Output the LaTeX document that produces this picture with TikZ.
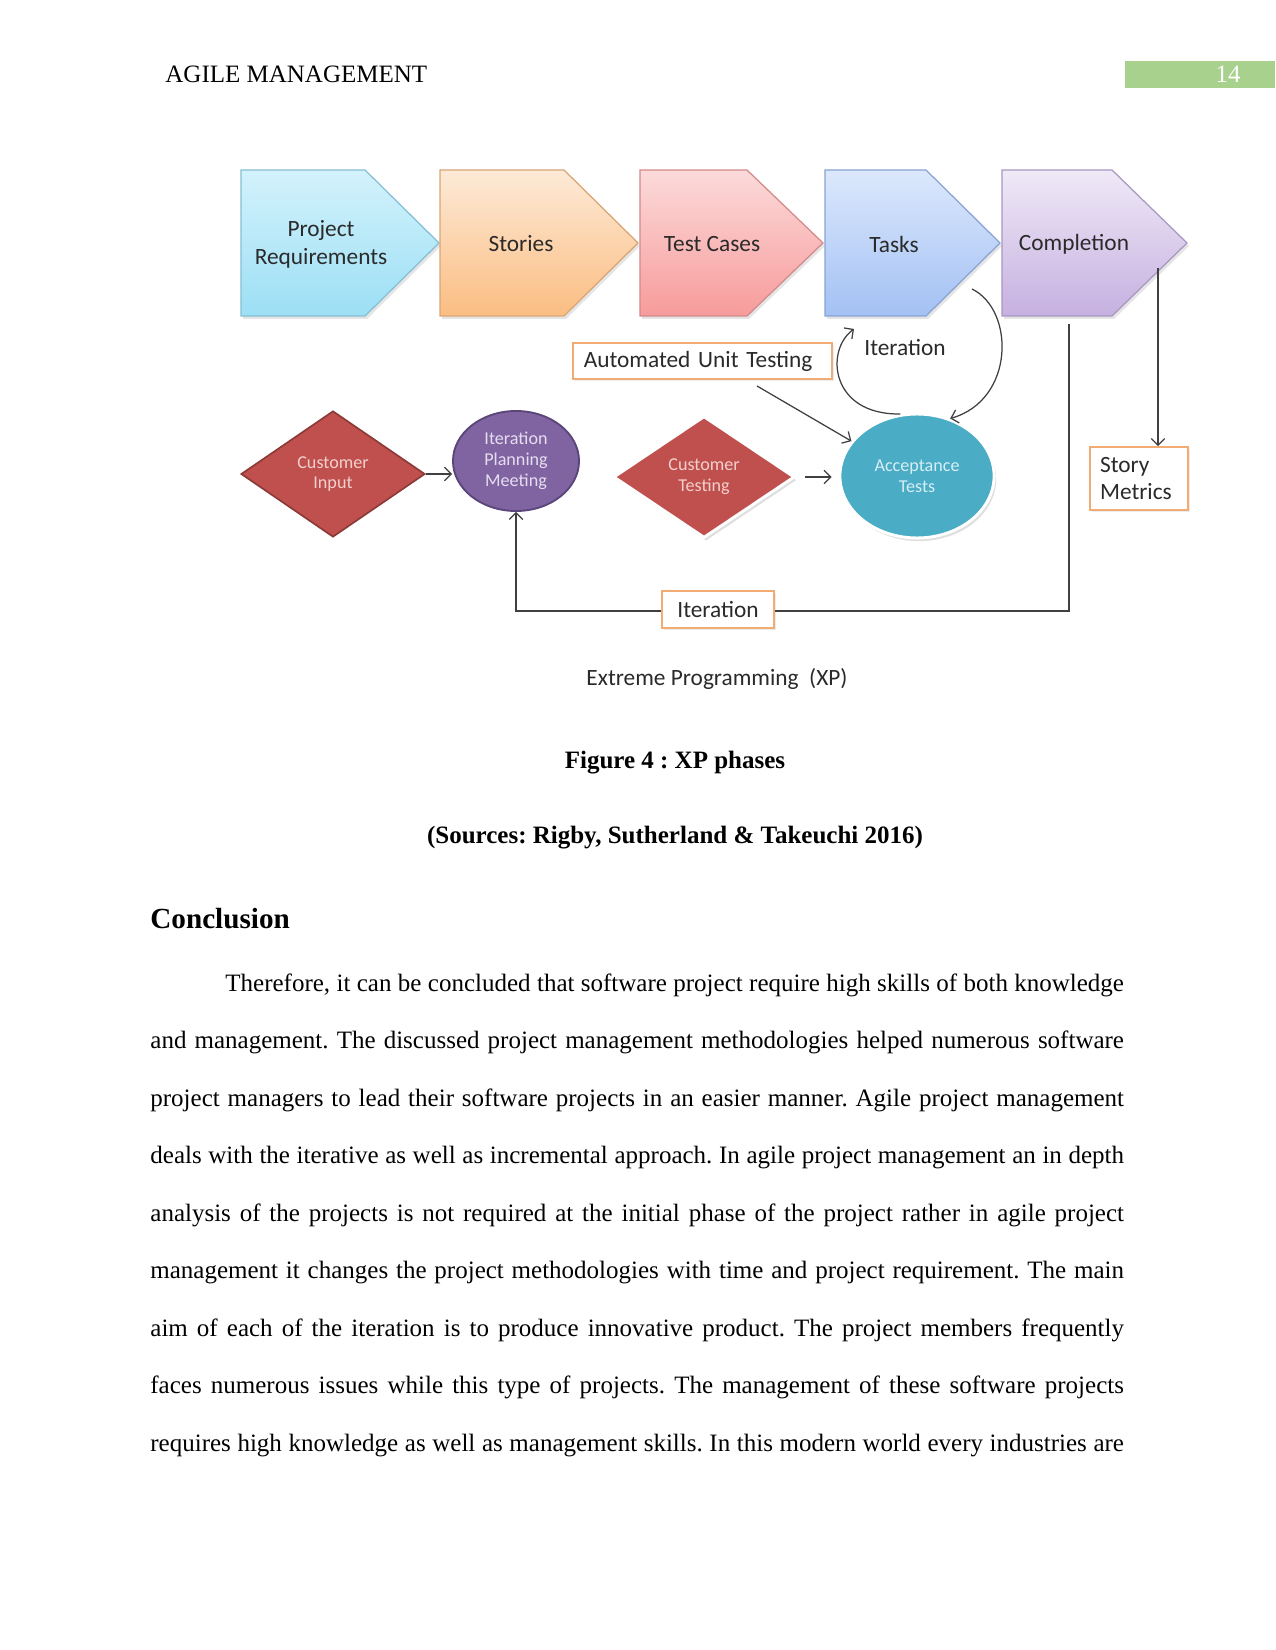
\documentclass[tikz,border=0pt]{standalone}
\usepackage{fontspec}
\setmainfont{Liberation Serif}
\newfontfamily\carl{Carlito}
\usetikzlibrary{arrows.meta,shapes.geometric,shadows,calc}
\frenchspacing
\definecolor{prTop}{HTML}{D3F2FC}\definecolor{prBot}{HTML}{9CDFF5}\definecolor{prBd}{HTML}{86BFD3}
\definecolor{stTop}{HTML}{FDEAD7}\definecolor{stBot}{HTML}{FBBD82}\definecolor{stBd}{HTML}{D9A574}
\definecolor{tcTop}{HTML}{FCDADA}\definecolor{tcBot}{HTML}{F79B9B}\definecolor{tcBd}{HTML}{D38A8A}
\definecolor{tkTop}{HTML}{DCE8FC}\definecolor{tkBot}{HTML}{A3C1F4}\definecolor{tkBd}{HTML}{8AA3D2}
\definecolor{cpTop}{HTML}{EFE9F7}\definecolor{cpBot}{HTML}{C6B0E0}\definecolor{cpBd}{HTML}{A898C2}
\definecolor{redfill}{HTML}{C0504D}\definecolor{redbd}{HTML}{8C3A38}\definecolor{redtext}{HTML}{F2D0CE}
\definecolor{purfill}{HTML}{8064A2}\definecolor{purbd}{HTML}{5B4679}\definecolor{purtext}{HTML}{E6DEF0}
\definecolor{tealfill}{HTML}{4BACC6}\definecolor{tealtext}{HTML}{D6EEF5}
\definecolor{orbd}{HTML}{F0AC72}
\definecolor{linegray}{HTML}{404040}
\definecolor{pagegreen}{HTML}{A9D18E}
\definecolor{chevtext}{HTML}{2A2A2A}
\newcommand\xpchev[6]{%
  \fill[black,opacity=0.10] ($(#1,170)+(2,3)$) -- ($(#2,170)+(2,3)$) -- ($(#3,243)+(2,3)$) -- ($(#2,316)+(2,3)$) -- ($(#1,316)+(2,3)$) -- cycle;
  \path[draw=#6, line width=0.6pt, top color=#4, bottom color=#5] (#1,170) -- (#2,170) -- (#3,243) -- (#2,316) -- (#1,316) -- cycle;}
\begin{document}
\begin{tikzpicture}[x=0.48pt,y=-0.48pt,
  chevlabel/.style={inner sep=0, align=center, text=chevtext, font=\carl\fontsize{11.2}{13.4}\selectfont},
  smalllabel/.style={inner sep=0, align=center, font=\carl\fontsize{8.7}{10}\selectfont},
  orbox/.style={draw=orbd, fill=white, line width=0.9pt, text=chevtext, font=\carl\fontsize{11.2}{13}\selectfont, drop shadow={shadow xshift=0.8pt,shadow yshift=-0.8pt,opacity=0.15}},
  conn/.style={draw=linegray, line width=0.6pt},
  arr/.style={conn, -{Straight Barb[length=3.2pt,width=6.5pt]}}]
\useasboundingbox (0,0) rectangle (1275,1650);
\fill[white] (0,0) rectangle (1275,1650);
% header
\node[anchor=base west, inner sep=0, font=\fontsize{12}{14}\selectfont] (hdr) at (165,83) {AGILE MANAGEMENT};
\fill[pagegreen] (1125,61) rectangle (1275,88);
\node[anchor=base, inner sep=0, text=white, font=\fontsize{12}{14}\selectfont] (pnum) at (1228,83) {14};
% chevrons
\xpchev{241}{365}{439}{prTop}{prBot}{prBd}
\xpchev{440}{564}{638}{stTop}{stBot}{stBd}
\xpchev{640}{747}{823}{tcTop}{tcBot}{tcBd}
\xpchev{825}{926}{1000}{tkTop}{tkBot}{tkBd}
\xpchev{1002}{1112}{1187}{cpTop}{cpBot}{cpBd}
\node[chevlabel] (pr) at (321,244) {Project\\Requirements};
\node[chevlabel] (st) at (521,244) {Stories};
\node[chevlabel] (tc) at (712,244) {Test Cases};
\node[chevlabel] (tk) at (894,244) {Tasks};
\node[chevlabel] (cp) at (1074,244) {Completion};
% boxes
\node[orbox, minimum width=124.3pt, minimum height=17.3pt, inner xsep=5pt, text width=114pt, align=left] (aut) at (702.5,361) {Automated Unit Testing};
\node[chevlabel] (itlab) at (905,348) {Iteration};
\node[orbox, minimum width=47pt, minimum height=30.2pt, inner xsep=4.8pt, text width=37.4pt, align=left] (sm) at (1139,478.5) {Story\\Metrics};
% lower shapes
\node[diamond, fill=redfill, draw=redbd, line width=0.8pt, minimum width=88.3pt, minimum height=60.5pt, inner sep=0, smalllabel, text=redtext] (ci) at (333,474) {Customer\\Input};
\node[ellipse, fill=purfill, draw=purbd, line width=0.9pt, minimum width=60.5pt, minimum height=48pt, inner sep=0, smalllabel, text=purtext] (ipm) at (516,461) {Iteration\\Planning\\Meeting};
\node[diamond, fill=redfill, draw=white, line width=1.4pt, minimum width=87pt, minimum height=58.5pt, inner sep=0, smalllabel, text=redtext, drop shadow={shadow xshift=1pt,shadow yshift=-1.5pt,opacity=0.25}] (ct) at (704,477) {Customer\\Testing};
\node[ellipse, fill=tealfill, draw=white, line width=1.4pt, minimum width=74pt, minimum height=59.5pt, inner sep=0, smalllabel, text=tealtext, drop shadow={shadow xshift=1pt,shadow yshift=-1.5pt,opacity=0.25}] (at) at (917,476) {Acceptance\\Tests};
% connectors
\draw[arr] (ci.east) -- (ci.east -| ipm.west);
\draw[arr, shorten <=4.3pt, shorten >=3.3pt] (ct.east) -- (ct.east -| at.west);
\coordinate (autout) at (757,386);
\draw[arr] (autout) -- (at.152);
\coordinate (tasksout) at (972,289);
\draw[arr] (tasksout) .. controls (1015,310) and (1015,400) .. (at.60);
\coordinate (itend) at (854,329);
\draw[arr] (at.105) .. controls (830,415) and (825,350) .. (itend);
\coordinate (compdown) at (1158,268);
\draw[arr] (compdown) -- (compdown |- sm.north);
\coordinate (loopstart) at (1069,324);
\coordinate (loopcorner) at (1069,611);
\draw[arr] (loopstart) -- (loopcorner) -| (ipm.south);
\node[orbox, minimum width=53.8pt, minimum height=17.8pt, inner sep=0] (it2) at (718,609.5) {Iteration};
\node[chevlabel] (xp) at (717,679) {Extreme Programming\ \ (XP)};
% caption and text
\node[anchor=base, inner sep=0, font=\bfseries\fontsize{12}{14}\selectfont] (fig) at (675,768) {Figure 4 : XP phases};
\node[anchor=base, inner sep=0, font=\bfseries\fontsize{12}{14}\selectfont] (src) at (675,843) {(Sources: Rigby, Sutherland \& Takeuchi 2016)};
\node[anchor=base west, inner sep=0, font=\bfseries\fontsize{14}{16}\selectfont] (concl) at (150,928) {Conclusion};
\node[anchor=base west, inner sep=0, text width=467.3pt, align=justify, font=\fontsize{12}{27.6}\selectfont] (para) at (150,991) {\frenchspacing\hyphenpenalty=10000\parfillskip=0pt\hspace*{36pt}Therefore, it can be concluded that software project require high skills of both knowledge\linebreak
and management. The discussed project management methodologies helped numerous software\linebreak
project managers to lead their software projects in an easier manner. Agile project management\linebreak
deals with the iterative as well as incremental approach. In agile project management an in depth\linebreak
analysis of the projects is not required at the initial phase of the project rather in agile project\linebreak
management it changes the project methodologies with time and project requirement. The main\linebreak
aim of each of the iteration is to produce innovative product. The project members frequently\linebreak
faces numerous issues while this type of projects. The management of these software projects\linebreak
requires high knowledge as well as management skills. In this modern world every industries are\par};
\end{tikzpicture}
\end{document}
